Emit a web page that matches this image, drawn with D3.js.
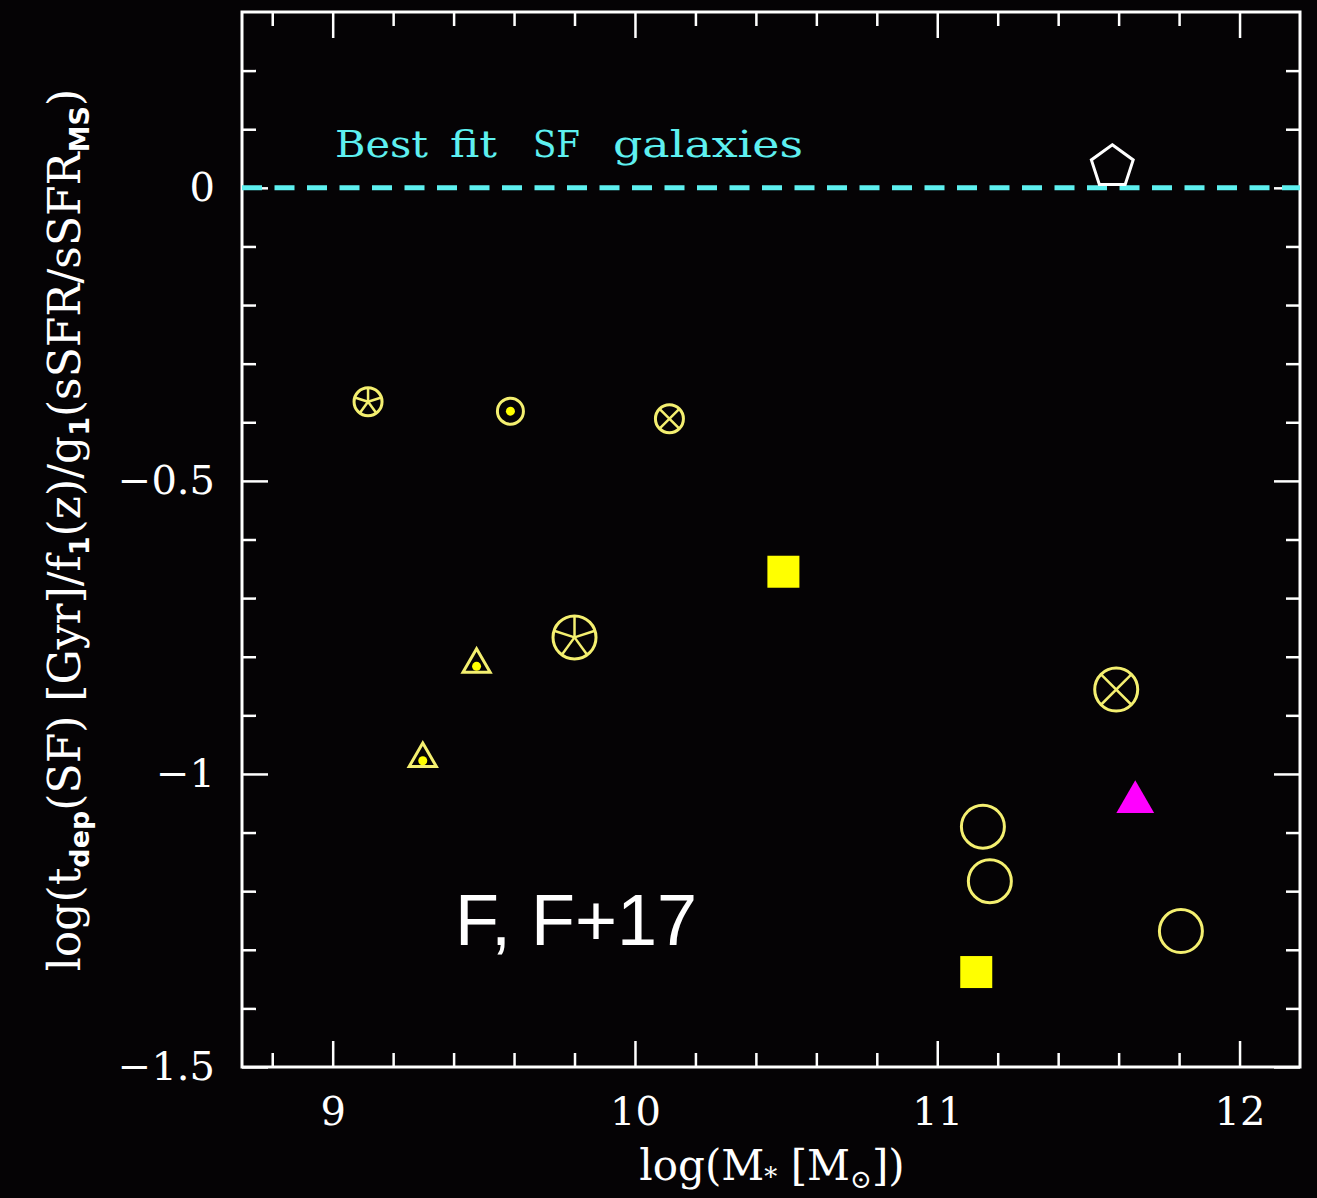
<!DOCTYPE html>
<html>
<head>
<meta charset="utf-8">
<script src="https://cdnjs.cloudflare.com/ajax/libs/d3/7.8.5/d3.min.js"></script>
<style>
  html, body { margin: 0; padding: 0; background: #050305; }
  svg { display: block; }
  .axis path, .axis line { stroke: #fff; }
  .axis text { fill: #fff; font-family: "DejaVu Serif", serif; }
</style>
</head>
<body>
<script>
// data
const massX = [9.117, 9.588, 10.114, 10.491, 9.800, 9.476, 9.298, 11.592, 11.655, 11.151, 11.174, 11.806, 11.129, 11.579];
const tdepY = [-0.365, -0.381, -0.394, -0.655, -0.767, -0.813, -0.974, -0.856, -1.048, -1.090, -1.183, -1.268, -1.338, 0.036];
const kinds = ['star-s', 'dot-s', 'cross-s', 'square', 'star-l', 'tri-dot', 'tri-dot', 'cross-l', 'tri-m', 'ring', 'ring', 'ring', 'square', 'pentagon'];
const xMajor = [9, 10, 11, 12];
const yMajor = [0, -0.5, -1, -1.5];
const bestFit = 0;
const fitWords = ['Best', 'fit', 'SF', 'galaxies'];

const W = 1317, H = 1198;
const margin = { top: 12, right: 17, bottom: 131, left: 242 };

const yellow = '#f4ef70', fillYellow = '#ffff00', magenta = '#ff00ff', cyan = '#5ef0f0';

const svg = d3.select('body').append('svg')
  .attr('width', W).attr('height', H);
svg.append('rect').attr('width', W).attr('height', H).attr('fill', '#050305');

const x = d3.scaleLinear().domain([8.7, 12.2]).range([margin.left, W - margin.right]);
const y = d3.scaleLinear().domain([-1.5, 0.3]).range([H - margin.bottom, margin.top]);

const xMinor = d3.range(8.8, 12.2, 0.2).map(d => +d.toFixed(1)).filter(d => xMajor.indexOf(d) < 0);
const yMinor = d3.range(-1.4, 0.3, 0.1).map(d => +d.toFixed(1)).filter(d => yMajor.indexOf(d) < 0);

const major = 26, minor = 14;
const fmtY = d => d === 0 ? '0' : '\u2212' + Math.abs(d);

// bottom
svg.append('g').attr('class', 'axis').attr('transform', `translate(0,${y.range()[0]})`)
  .call(d3.axisBottom(x).tickValues(xMajor).tickSizeInner(-major).tickSizeOuter(0).tickPadding(30).tickFormat(d3.format('d')));
svg.append('g').attr('class', 'axis minor').attr('transform', `translate(0,${y.range()[0]})`)
  .call(d3.axisBottom(x).tickValues(xMinor).tickSizeInner(-minor).tickSizeOuter(0).tickFormat(''));
// top
svg.append('g').attr('class', 'axis').attr('transform', `translate(0,${y.range()[1]})`)
  .call(d3.axisTop(x).tickValues(xMajor).tickSizeInner(-major).tickSizeOuter(0).tickFormat(''));
svg.append('g').attr('class', 'axis minor').attr('transform', `translate(0,${y.range()[1]})`)
  .call(d3.axisTop(x).tickValues(xMinor).tickSizeInner(-minor).tickSizeOuter(0).tickFormat(''));
// left
svg.append('g').attr('class', 'axis').attr('transform', `translate(${x.range()[0]},0)`)
  .call(d3.axisLeft(y).tickValues(yMajor).tickSizeInner(-major).tickSizeOuter(0).tickPadding(27).tickFormat(fmtY));
svg.append('g').attr('class', 'axis minor').attr('transform', `translate(${x.range()[0]},0)`)
  .call(d3.axisLeft(y).tickValues(yMinor).tickSizeInner(-minor).tickSizeOuter(0).tickFormat(''));
// right
svg.append('g').attr('class', 'axis').attr('transform', `translate(${x.range()[1]},0)`)
  .call(d3.axisRight(y).tickValues(yMajor).tickSizeInner(-major).tickSizeOuter(0).tickFormat(''));
svg.append('g').attr('class', 'axis minor').attr('transform', `translate(${x.range()[1]},0)`)
  .call(d3.axisRight(y).tickValues(yMinor).tickSizeInner(-minor).tickSizeOuter(0).tickFormat(''));

svg.selectAll('.axis .domain').remove();
svg.selectAll('.axis line').attr('stroke-width', 2.5);
svg.selectAll('.axis text').attr('font-size', 40);

// frame
svg.append('rect')
  .attr('x', x.range()[0]).attr('y', y.range()[1])
  .attr('width', x.range()[1] - x.range()[0]).attr('height', y.range()[0] - y.range()[1])
  .attr('fill', 'none').attr('stroke', '#fff').attr('stroke-width', 3);

// best fit line
svg.append('line')
  .attr('x1', x.range()[0]).attr('x2', x.range()[1])
  .attr('y1', y(bestFit)).attr('y2', y(bestFit))
  .attr('stroke', cyan).attr('stroke-width', 5).attr('stroke-dasharray', '20,12.5');

// label words laid out like the original (wide gaps between words)
const wordX = [335, 450, 533, 613];
const wordW = [93, 47, 47, 190];
svg.append('g').selectAll('text')
  .data(fitWords)
  .join('text')
  .attr('x', (d, i) => wordX[i]).attr('y', 157)
  .attr('font-family', '"DejaVu Serif", serif').attr('font-size', 38)
  .attr('fill', cyan)
  .attr('textLength', (d, i) => wordW[i]).attr('lengthAdjust', 'spacingAndGlyphs')
  .text(d => d);

svg.append('text')
  .attr('x', 455).attr('y', 945)
  .attr('font-family', '"Liberation Sans", Arial, sans-serif').attr('font-size', 72)
  .attr('fill', '#fff')
  .text('F, F+17');

// axis titles
const xt = svg.append('text')
  .attr('x', 772).attr('y', 1180).attr('text-anchor', 'middle')
  .attr('font-family', '"DejaVu Serif", serif').attr('font-size', 42).attr('fill', '#fff');
xt.append('tspan').text('log(M');
xt.append('tspan').attr('font-size', 26).attr('dy', 6).text('*');
xt.append('tspan').attr('dy', -6).text(' [M');
xt.append('tspan').attr('font-size', 26).attr('dy', 8).text('\u2299');
xt.append('tspan').attr('dy', -8).text('])');

const yt = svg.append('text')
  .attr('transform', 'translate(80,530) rotate(-90)').attr('text-anchor', 'middle')
  .attr('font-family', '"DejaVu Serif", serif').attr('font-size', 44).attr('fill', '#fff');
const ySub = (s) => {
  yt.append('tspan').attr('font-size', 27).attr('font-family', '"DejaVu Sans", sans-serif')
    .attr('font-weight', 'bold').attr('dy', 9).text(s);
};
yt.append('tspan').text('log(t');
ySub('dep');
yt.append('tspan').attr('dy', -9).text('(SF) [Gyr]/f');
ySub('1');
yt.append('tspan').attr('dy', -9).text('(z)/g');
ySub('1');
yt.append('tspan').attr('dy', -9).text('(sSFR/sSFR');
ySub('MS');
yt.append('tspan').attr('dy', -9).text(')');

// markers
const pts = massX.map((d, i) => ({ mx: d, ty: tdepY[i], kind: kinds[i] }));
const style = {
  'star-s':  { r: 14, spokes: 'star' },
  'dot-s':   { r: 13, spokes: 'dot' },
  'cross-s': { r: 14, spokes: 'cross' },
  'star-l':  { r: 21.5, spokes: 'star' },
  'cross-l': { r: 21.5, spokes: 'cross' },
  'ring':    { r: 21.5, spokes: 'none' }
};

const g = svg.append('g');
pts.forEach(p => {
  const cx = x(p.mx), cy = y(p.ty);
  const m = g.append('g').attr('transform', `translate(${cx},${cy})`);
  if (style[p.kind]) {
    const s = style[p.kind];
    m.append('circle').attr('r', s.r).attr('fill', 'none').attr('stroke', yellow).attr('stroke-width', 3);
    if (s.spokes === 'star') {
      d3.range(5).forEach(k => {
        const a = -Math.PI / 2 + k * 2 * Math.PI / 5;
        m.append('line').attr('x1', 0).attr('y1', 0)
          .attr('x2', s.r * Math.cos(a)).attr('y2', s.r * Math.sin(a))
          .attr('stroke', yellow).attr('stroke-width', 2.5);
      });
    } else if (s.spokes === 'cross') {
      const c = s.r * Math.SQRT1_2;
      m.append('path').attr('d', `M${-c},${-c}L${c},${c}M${-c},${c}L${c},${-c}`)
        .attr('stroke', yellow).attr('stroke-width', 2.5);
    } else if (s.spokes === 'dot') {
      m.append('circle').attr('r', 4.5).attr('fill', fillYellow);
    }
  } else if (p.kind === 'square') {
    m.append('rect').attr('x', -16).attr('y', -16).attr('width', 32).attr('height', 32).attr('fill', fillYellow);
  } else if (p.kind === 'tri-dot') {
    m.append('path').attr('d', d3.symbol(d3.symbolTriangle, 320)).attr('fill', 'none')
      .attr('stroke', yellow).attr('stroke-width', 3);
    m.append('circle').attr('cy', 2).attr('r', 4.5).attr('fill', fillYellow);
  } else if (p.kind === 'tri-m') {
    m.append('path').attr('d', d3.symbol(d3.symbolTriangle, 620)).attr('fill', magenta);
  } else if (p.kind === 'pentagon') {
    const R = 22;
    const pent = d3.range(5).map(k => {
      const a = -Math.PI / 2 + k * 2 * Math.PI / 5;
      return [R * Math.cos(a), R * Math.sin(a)];
    });
    m.append('path').attr('d', d3.line()(pent) + 'Z').attr('fill', 'none')
      .attr('stroke', '#fff').attr('stroke-width', 3);
  }
});
</script>
</body>
</html>
